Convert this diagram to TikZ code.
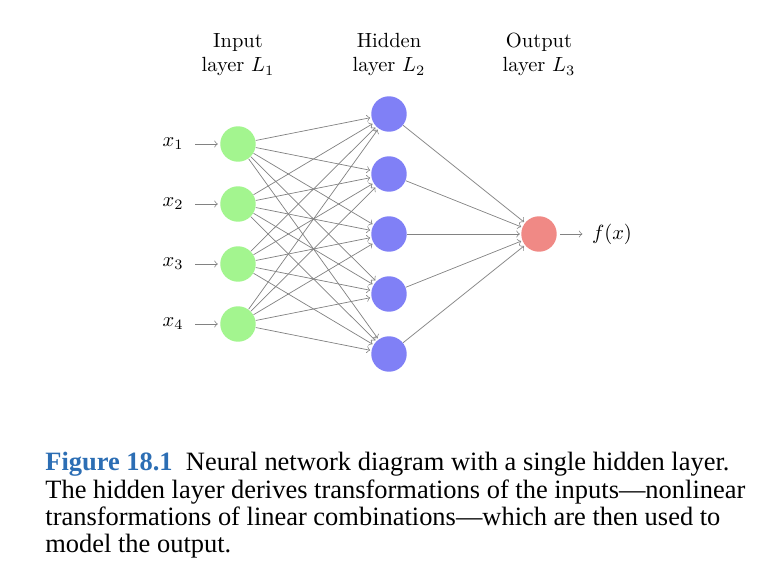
\documentclass[tikz,border=0pt]{standalone}
\usepackage{fontspec}
\newfontfamily\capfont[Ligatures=TeX]{Liberation Serif}
\definecolor{ingreen}{RGB}{163,245,143}
\definecolor{hidblue}{RGB}{128,128,246}
\definecolor{outred}{RGB}{240,137,133}
\definecolor{edgegray}{RGB}{130,130,130}
\definecolor{figblue}{RGB}{44,110,180}
\tikzset{
  neuron/.style={circle, minimum size=17.3pt, inner sep=0pt},
  inneuron/.style={neuron, fill=ingreen},
  hidneuron/.style={neuron, fill=hidblue},
  outneuron/.style={neuron, fill=outred},
  edge/.style={->, draw=edgegray, line width=0.35pt, shorten >=0.5pt},
  hdr/.style={align=center, anchor=base, inner sep=0pt},
  lbl/.style={inner sep=0pt}
}
\begin{document}
\begin{tikzpicture}[x=0.4878pt, y=-0.4878pt]
\useasboundingbox (0,0) rectangle (774,568);
% headers (anchor = baseline of the last line)
\node[hdr] (hin) at (238,72) {Input\\layer $L_1$};
\node[hdr] (hhid) at (389,72) {Hidden\\layer $L_2$};
\node[hdr] (hout) at (539,72) {Output\\layer $L_3$};
% input layer
\foreach \i/\y in {1/144,2/204,3/264,4/324}{
  \node[inneuron] (i\i) at (238,\y) {};
  \node[lbl] (x\i) at (173,\y) {$x_{\i}$};
  \draw[edge, shorten <=5.5pt, shorten >=1pt] (x\i) -- (i\i);
}
% hidden layer
\foreach \j/\y in {1/114,2/174,3/234,4/294,5/354}{
  \node[hidneuron] (h\j) at (389,\y) {};
}
% output
\node[outneuron] (o) at (539,234) {};
\node[lbl] (f) at (612,234) {$f(x)$};
\draw[edge, shorten <=1.5pt, shorten >=4.5pt] (o) -- (f);
% edges
\foreach \i in {1,...,4}{
  \foreach \j in {1,...,5}{
    \draw[edge] (i\i) -- (h\j);
  }
}
\foreach \j in {1,...,5}{
  \draw[edge] (h\j) -- (o);
}
% caption (anchor = baseline of the last line)
\node[anchor=base west, align=left, inner sep=0pt, font={\capfont\fontsize{12.9}{13.3}\selectfont}] (cap) at (45,552.7)
{{\bfseries\color{figblue}Figure 18.1}\enspace Neural network diagram with a single hidden layer.\\
The hidden layer derives transformations of the inputs\textemdash nonlinear\\
transformations of linear combinations\textemdash which are then used to\\
model the output.};
\end{tikzpicture}
\end{document}
